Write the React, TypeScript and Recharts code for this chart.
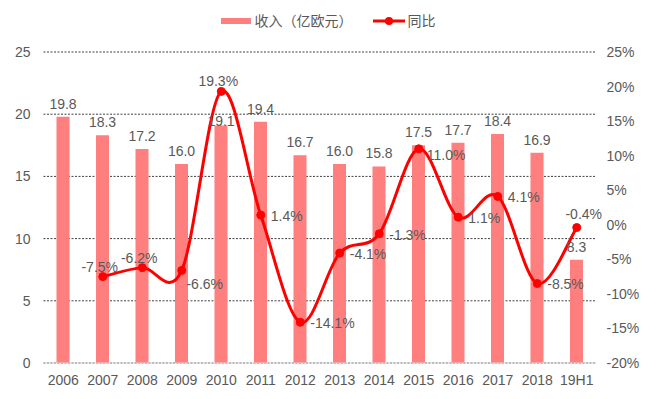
import React from 'react';
import {
  ComposedChart, Bar, Line, XAxis, YAxis, CartesianGrid, LabelList,
} from 'recharts';

const categories = ['2006', '2007', '2008', '2009', '2010', '2011', '2012', '2013', '2014', '2015', '2016', '2017', '2018', '19H1'];
const revenue = [19.8, 18.3, 17.2, 16.0, 19.1, 19.4, 16.7, 16.0, 15.8, 17.5, 17.7, 18.4, 16.9, 8.3];
const yoy = [null, -7.5, -6.2, -6.6, 19.3, 1.4, -14.1, -4.1, -1.3, 11.0, 1.1, 4.1, -8.5, -0.4];
const leftTicks = [0, 5, 10, 15, 20, 25];
const rightTicks = [-20, -15, -10, -5, 0, 5, 10, 15, 20, 25];

const revenueName = '收入（亿欧元）';
const yoyName = '同比';

// label placement styling (not data)
const lineLabelPlacement = ['none', 'top', 'top', 'bottomRight', 'top', 'right', 'right', 'right', 'right', 'rightLow', 'right', 'right', 'right', 'topRight'];
const barLabelShift = [0, 0, 0, 0, 9, 0, 0, 0, 0, 0, 0, 0, 0, 0];

const data = categories.map((c, i) => ({ name: c, revenue: revenue[i], yoy: yoy[i] }));

const TEXT = '#595959';
const FONT = '"Liberation Sans", Arial, "Noto Sans CJK SC", sans-serif';
const FS = 14;

function excelCurve(context: any) {
  let pts: number[][] = [];
  return {
    areaStart() {},
    areaEnd() {},
    lineStart() { pts = []; },
    point(x: number, y: number) { pts.push([+x, +y]); },
    lineEnd() {
      if (!pts.length) return;
      context.moveTo(pts[0][0], pts[0][1]);
      if (pts.length === 1) { context.lineTo(pts[0][0], pts[0][1]); return; }
      for (let i = 0; i < pts.length - 1; i++) {
        const p0 = pts[i - 1] || pts[i];
        const p1 = pts[i];
        const p2 = pts[i + 1];
        const p3 = pts[i + 2] || p2;
        const c1x = p1[0] + (p2[0] - p0[0]) / 6;
        const c1y = p1[1] + (p2[1] - p0[1]) / 6;
        const c2x = p2[0] - (p3[0] - p1[0]) / 6;
        const c2y = p2[1] - (p3[1] - p1[1]) / 6;
        context.bezierCurveTo(c1x, c1y, c2x, c2y, p2[0], p2[1]);
      }
    },
  };
}

const LineLabel = (props: any) => {
  const { x, y, value, index } = props;
  if (value === null || value === undefined) return null;
  const p = lineLabelPlacement[index];
  let tx = x, ty = y, anchor: any = 'middle';
  if (p === 'top') { ty = y - 10; tx = x - 3; }
  else if (p === 'topRight') { ty = y - 13; tx = x + 7; }
  else if (p === 'bottomRight') { tx = x + 23; ty = y + 14; }
  else if (p === 'right') { tx = x + 10; ty = y + 1; anchor = 'start'; }
  else if (p === 'rightLow') { tx = x + 8; ty = y + 6; anchor = 'start'; }
  return (
    <text x={tx} y={ty} dy="0.35em" textAnchor={anchor} fill={TEXT} fontSize={FS} fontFamily={FONT}>
      {value.toFixed(1) + '%'}
    </text>
  );
};

const BarLabel = (props: any) => {
  const { x, y, width, value, index } = props;
  const cx = x + width / 2;
  const cy = y - 13 + (barLabelShift[index] || 0);
  return (
    <text x={cx} y={cy} dy="0.35em" textAnchor="middle" fill={TEXT} fontSize={FS} fontFamily={FONT}>
      {Number(value).toFixed(1)}
    </text>
  );
};

const LegendBlock = () => (
  <div style={{ position: 'absolute', left: 0, top: 12, width: 664, display: 'flex', justifyContent: 'center', alignItems: 'center', fontFamily: FONT, fontSize: FS, color: TEXT, paddingRight: 8, boxSizing: 'border-box', lineHeight: '18px' }}>
    <svg width={30} height={8} style={{ marginRight: 4 }}>
      <rect x={0} y={1} width={30} height={6} fill="#FF7F7F" />
    </svg>
    <span style={{ marginRight: 20 }}>{revenueName}</span>
    <svg width={32} height={10} style={{ marginRight: 3 }}>
      <line x1={0} y1={5} x2={32} y2={5} stroke="#FF0000" strokeWidth={3} />
      <circle cx={16} cy={5} r={4} fill="#FF0000" />
    </svg>
    <span>{yoyName}</span>
  </div>
);

export default function App() {
  return (
    <div style={{ position: 'absolute', left: 0, top: 0, width: 664, height: 399, background: '#fff' }}>
      <ComposedChart width={664} height={399} data={data} margin={{ top: 52, right: 0, bottom: 6, left: 0 }} barSize={13}>
        <CartesianGrid vertical={false} stroke="#404040" strokeDasharray="2 1.5" yAxisId="left" />
        <XAxis
          dataKey="name"
          tickLine={false}
          tickSize={0}
          tickMargin={12}
          axisLine={{ stroke: '#D9D9D9', strokeWidth: 1 }}
          tick={{ fill: TEXT, fontSize: FS, fontFamily: FONT }}
          height={30}
          interval={0}
        />
        <YAxis
          yAxisId="left"
          domain={[0, 25]}
          ticks={leftTicks}
          axisLine={false}
          tickLine={false}
          tickSize={0}
          tickMargin={13}
          width={43.5}
          tick={{ fill: TEXT, fontSize: FS, fontFamily: FONT }}
          interval={0}
        />
        <YAxis
          yAxisId="right"
          orientation="right"
          domain={[-20, 25]}
          ticks={rightTicks}
          axisLine={false}
          tickLine={false}
          tickSize={0}
          tickMargin={10}
          width={67.5}
          tickFormatter={(v: number) => v + '%'}
          tick={{ fill: TEXT, fontSize: FS, fontFamily: FONT, textAnchor: 'start' }}
          interval={0}
        />
        <Bar yAxisId="left" dataKey="revenue" name={revenueName} fill="#FF7F7F" isAnimationActive={false}>
          <LabelList dataKey="revenue" content={<BarLabel />} />
        </Bar>
        <Line
          yAxisId="right"
          dataKey="yoy"
          name={yoyName}
          type={excelCurve as any}
          stroke="#FF0000"
          strokeWidth={3}
          dot={{ r: 4, fill: '#FF0000', stroke: '#FF0000', strokeWidth: 1 }}
          isAnimationActive={false}
        >
          <LabelList dataKey="yoy" content={<LineLabel />} />
        </Line>
      </ComposedChart>
      <LegendBlock />
    </div>
  );
}
